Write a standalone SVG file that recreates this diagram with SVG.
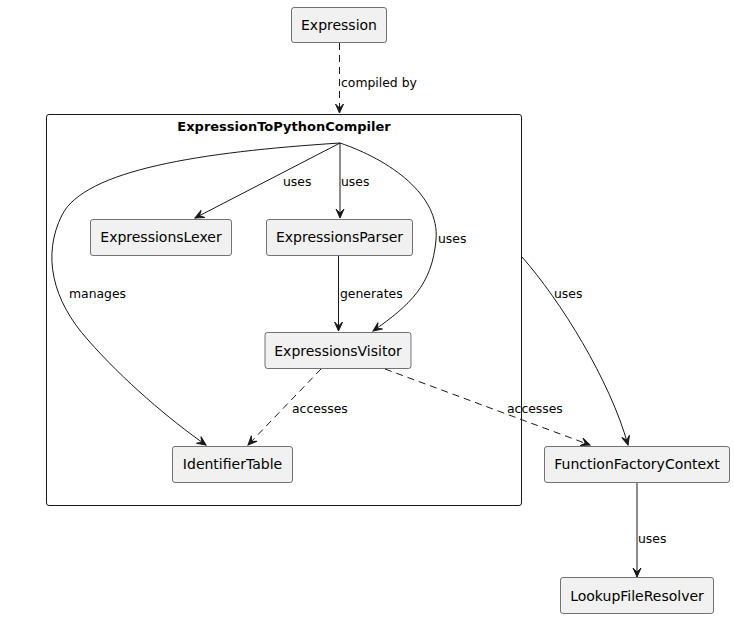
<svg xmlns="http://www.w3.org/2000/svg" width="734" height="619" viewBox="0 0 734 619">
<style>
.node rect{fill:#f1f1f1;stroke:#181818;stroke-width:0.6}
.node text{font-family:"DejaVu Sans",sans-serif;font-size:14px;fill:#000;text-anchor:middle}
.edge{fill:none;stroke:#181818;stroke-width:1}
.dash{stroke-dasharray:7,5}
.lbl{font-family:"DejaVu Sans",sans-serif;font-size:12.4px;fill:#000}
</style>
<defs>
<marker id="arr" viewBox="-10 -5 11 10" markerWidth="11" markerHeight="10" refX="0" refY="0" orient="auto" markerUnits="userSpaceOnUse">
<path d="M0,0 L-9,-4 L-5,0 L-9,4 Z" fill="#181818" stroke="#181818" stroke-width="1" stroke-linejoin="miter"/>
</marker>
</defs>
<rect width="734" height="619" fill="#ffffff"/>
<g id="ExpressionToPythonCompiler">
<rect x="46.5" y="114.5" width="475" height="391" rx="2.5" fill="#ffffff" stroke="#181818" stroke-width="1"/>
<text x="284" y="131" font-family="DejaVu Sans, sans-serif" font-size="13" font-weight="bold" text-anchor="middle">ExpressionToPythonCompiler</text>
</g>
<g id="Expression" class="node"><rect x="291.5" y="7.5" width="95" height="35" rx="2.5"/><text x="339" y="30">Expression</text></g>
<g id="ExpressionsLexer" class="node"><rect x="90.5" y="219.5" width="141" height="36" rx="2.5"/><text x="161" y="242">ExpressionsLexer</text></g>
<g id="ExpressionsParser" class="node"><rect x="266.5" y="219.5" width="146" height="36" rx="2.5"/><text x="339.5" y="242">ExpressionsParser</text></g>
<g id="ExpressionsVisitor" class="node"><rect x="265" y="332.5" width="146" height="36" rx="2.5"/><text x="338" y="356">ExpressionsVisitor</text></g>
<g id="IdentifierTable" class="node"><rect x="172.5" y="446.5" width="120" height="36" rx="2.5"/><text x="232.5" y="469">IdentifierTable</text></g>
<g id="FunctionFactoryContext" class="node"><rect x="544.5" y="446.5" width="185" height="36" rx="2.5"/><text x="637" y="469">FunctionFactoryContext</text></g>
<g id="LookupFileResolver" class="node"><rect x="560.5" y="577.5" width="153" height="36" rx="2.5"/><text x="637" y="601">LookupFileResolver</text></g>
<g id="connectors">
<path class="edge dash" d="M339.5,43 L339.5,113" marker-end="url(#arr)"/>
<text class="lbl" x="341" y="87">compiled by</text>
<path class="edge" d="M340,143 L195,218" marker-end="url(#arr)"/>
<text class="lbl" x="283" y="186">uses</text>
<path class="edge" d="M340,143 L340,218" marker-end="url(#arr)"/>
<text class="lbl" x="341" y="186">uses</text>
<path class="edge" d="M340,143 C390,160 440,195 436,240 C432,285 410,305 373,331" marker-end="url(#arr)"/>
<text class="lbl" x="438" y="243">uses</text>
<path class="edge" d="M340,143 C200,152 85,170 62,215 C42,255 52,300 88,340 C123,380 170,420 206,445" marker-end="url(#arr)"/>
<text class="lbl" x="69" y="298">manages</text>
<path class="edge" d="M338.5,256 L338.5,331" marker-end="url(#arr)"/>
<text class="lbl" x="340" y="298">generates</text>
<path class="edge dash" d="M321,369 L248,445" marker-end="url(#arr)"/>
<text class="lbl" x="292" y="413">accesses</text>
<path class="edge dash" d="M385,369 L590,445" marker-end="url(#arr)"/>
<text class="lbl" x="507" y="413">accesses</text>
<path class="edge" d="M522,257 C560,300 610,380 628,445" marker-end="url(#arr)"/>
<text class="lbl" x="554" y="298">uses</text>
<path class="edge" d="M637,483 L637,577" marker-end="url(#arr)"/>
<text class="lbl" x="638" y="543">uses</text>
</g>
</svg>
